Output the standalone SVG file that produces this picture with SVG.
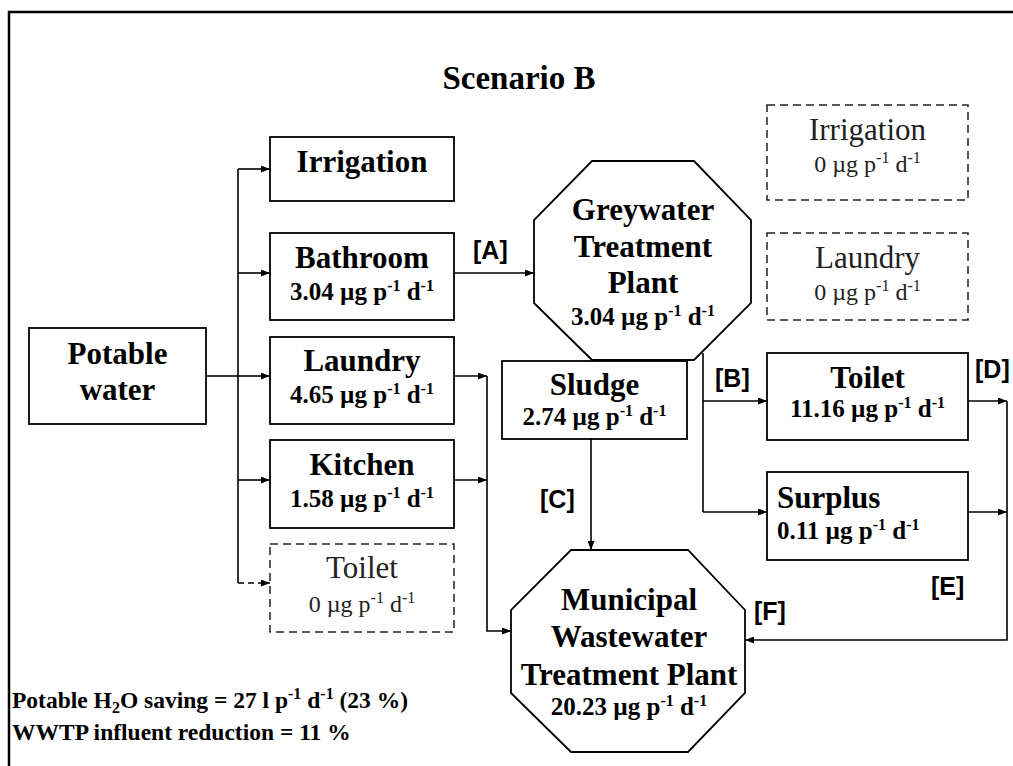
<svg xmlns="http://www.w3.org/2000/svg" width="1013" height="766" viewBox="0 0 1013 766">
<style>
.box{fill:#fff;stroke:#000;stroke-width:1.8}
.dbox{fill:#fff;stroke:#222;stroke-width:1.5;stroke-dasharray:8 5}
.t{font-family:"Liberation Serif","Times New Roman",serif;font-weight:bold;font-size:31px;fill:#000;text-anchor:middle}
.v{font-family:"Liberation Serif","Times New Roman",serif;font-weight:bold;font-size:25px;fill:#000;text-anchor:middle}
.ts{font-family:"Liberation Serif","Times New Roman",serif;font-weight:bold;font-size:31px;fill:#000;text-anchor:start}
.vs{font-family:"Liberation Serif","Times New Roman",serif;font-weight:bold;font-size:25px;fill:#000;text-anchor:start}
.tn{font-family:"Liberation Serif","Times New Roman",serif;font-size:31px;fill:#222;text-anchor:middle}
.vn{font-family:"Liberation Serif","Times New Roman",serif;font-size:24px;fill:#222;text-anchor:middle}
.lab{font-family:"Liberation Sans",Arial,sans-serif;font-weight:bold;font-size:25px;fill:#000}
.sup{font-size:16px}
.con{fill:none;stroke:#000;stroke-width:1.6}
.dcon{fill:none;stroke:#000;stroke-width:1.6;stroke-dasharray:6 4}
.note{font-family:"Liberation Serif","Times New Roman",serif;font-weight:bold;font-size:23.5px;fill:#000}
.title{font-family:"Liberation Serif","Times New Roman",serif;font-weight:bold;font-size:33px;fill:#000;text-anchor:middle}
</style>
<defs>
<marker id="ah" markerWidth="9" markerHeight="7" refX="9" refY="3.5" orient="auto" markerUnits="userSpaceOnUse">
<path d="M0,0 L9,3.5 L0,7 z" fill="#000"/>
</marker>
</defs>
<rect x="0" y="0" width="1013" height="766" fill="#fff"/>
<rect x="9" y="12" width="1020" height="770" fill="none" stroke="#000" stroke-width="2.5"/>
<text class="title" x="519" y="89">Scenario B</text>

<g id="connectors">
<path class="con" d="M206,376 H238"/>
<path class="con" d="M238,169 V583"/>
<path class="con" d="M238,169 H270" marker-end="url(#ah)"/>
<path class="con" d="M238,273 H270" marker-end="url(#ah)"/>
<path class="con" d="M238,376 H270" marker-end="url(#ah)"/>
<path class="con" d="M238,480 H270" marker-end="url(#ah)"/>
<path class="dcon" d="M238,583 H270" marker-end="url(#ah)"/>
<path class="con" d="M454,273 H534" marker-end="url(#ah)"/>
<path class="con" d="M454,376 H487" marker-end="url(#ah)"/>
<path class="con" d="M454,480 H487" marker-end="url(#ah)"/>
<path class="con" d="M487,376 V631 H511" marker-end="url(#ah)"/>
<path class="con" d="M591,439 V550" marker-end="url(#ah)"/>
<path class="con" d="M703,353 V512"/>
<path class="con" d="M703,401 H767" marker-end="url(#ah)"/>
<path class="con" d="M703,512 H767" marker-end="url(#ah)"/>
<path class="con" d="M968,401 H1007" marker-end="url(#ah)"/>
<path class="con" d="M968,512 H1007" marker-end="url(#ah)"/>
<path class="con" d="M1007,401 V640 H745" marker-end="url(#ah)"/>
<text class="lab" x="473" y="259">[A]</text>
<text class="lab" x="715" y="387">[B]</text>
<text class="lab" x="540" y="508">[C]</text>
<text class="lab" x="975" y="378">[D]</text>
<text class="lab" x="931" y="595">[E]</text>
<text class="lab" x="754" y="620">[F]</text>
</g>

<g id="potable">
<rect class="box" x="29" y="328" width="177" height="96"/>
<text class="t" x="117.5" y="364">Potable</text>
<text class="t" x="117.5" y="400">water</text>
</g>
<g id="irrigation">
<rect class="box" x="270" y="137" width="184" height="64"/>
<text class="t" x="362" y="172">Irrigation</text>
</g>
<g id="bathroom">
<rect class="box" x="270" y="233" width="184" height="87"/>
<text class="t" x="362" y="268">Bathroom</text>
<text class="v" x="362" y="300">3.04 µg p<tspan class="sup" dy="-9">-1</tspan><tspan dy="9"> d</tspan><tspan class="sup" dy="-9">-1</tspan></text>
</g>
<g id="laundry">
<rect class="box" x="270" y="337" width="184" height="87"/>
<text class="t" x="362" y="371">Laundry</text>
<text class="v" x="362" y="403">4.65 µg p<tspan class="sup" dy="-9">-1</tspan><tspan dy="9"> d</tspan><tspan class="sup" dy="-9">-1</tspan></text>
</g>
<g id="kitchen">
<rect class="box" x="270" y="440" width="184" height="88"/>
<text class="t" x="362" y="475">Kitchen</text>
<text class="v" x="362" y="507">1.58 µg p<tspan class="sup" dy="-9">-1</tspan><tspan dy="9"> d</tspan><tspan class="sup" dy="-9">-1</tspan></text>
</g>
<g id="toilet-potable">
<rect class="dbox" x="270" y="544" width="184" height="88"/>
<text class="tn" x="362" y="578">Toilet</text>
<text class="vn" x="362" y="612">0 µg p<tspan class="sup" dy="-9">-1</tspan><tspan dy="9"> d</tspan><tspan class="sup" dy="-9">-1</tspan></text>
</g>
<g id="greywater-plant">
<polygon class="box" points="592,161 694,161 751,220 751,303 694,360 592,360 534,303 534,220"/>
<text class="t" x="643" y="220">Greywater</text>
<text class="t" x="643" y="257">Treatment</text>
<text class="t" x="643" y="293">Plant</text>
<text class="v" x="643" y="325">3.04 µg p<tspan class="sup" dy="-9">-1</tspan><tspan dy="9"> d</tspan><tspan class="sup" dy="-9">-1</tspan></text>
</g>
<g id="sludge">
<rect class="box" x="502" y="361" width="185" height="78"/>
<text class="t" x="594.5" y="395">Sludge</text>
<text class="v" x="594.5" y="425">2.74 µg p<tspan class="sup" dy="-9">-1</tspan><tspan dy="9"> d</tspan><tspan class="sup" dy="-9">-1</tspan></text>
</g>
<g id="irrigation-recycled">
<rect class="dbox" x="767" y="105" width="201" height="95"/>
<text class="tn" x="867.5" y="140">Irrigation</text>
<text class="vn" x="867.5" y="172">0 µg p<tspan class="sup" dy="-9">-1</tspan><tspan dy="9"> d</tspan><tspan class="sup" dy="-9">-1</tspan></text>
</g>
<g id="laundry-recycled">
<rect class="dbox" x="767" y="233" width="201" height="87"/>
<text class="tn" x="867.5" y="268">Laundry</text>
<text class="vn" x="867.5" y="300">0 µg p<tspan class="sup" dy="-9">-1</tspan><tspan dy="9"> d</tspan><tspan class="sup" dy="-9">-1</tspan></text>
</g>
<g id="toilet-recycled">
<rect class="box" x="767" y="353" width="201" height="87"/>
<text class="t" x="867.5" y="388">Toilet</text>
<text class="v" x="867.5" y="417">11.16 µg p<tspan class="sup" dy="-9">-1</tspan><tspan dy="9"> d</tspan><tspan class="sup" dy="-9">-1</tspan></text>
</g>
<g id="surplus">
<rect class="box" x="767" y="472" width="201" height="88"/>
<text class="ts" x="777" y="508">Surplus</text>
<text class="vs" x="777" y="539">0.11 µg p<tspan class="sup" dy="-9">-1</tspan><tspan dy="9"> d</tspan><tspan class="sup" dy="-9">-1</tspan></text>
</g>
<g id="municipal-wwtp">
<polygon class="box" points="571,550 688,550 745,610 745,693 688,752 571,752 511,693 511,610"/>
<text class="t" x="629" y="610">Municipal</text>
<text class="t" x="629" y="647">Wastewater</text>
<text class="t" x="629" y="685">Treatment Plant</text>
<text class="v" x="629" y="715">20.23 µg p<tspan class="sup" dy="-9">-1</tspan><tspan dy="9"> d</tspan><tspan class="sup" dy="-9">-1</tspan></text>
</g>
<g id="notes">
<text class="note" x="12" y="708">Potable H<tspan font-size="16" dy="5">2</tspan><tspan dy="-5">O saving = 27 l p</tspan><tspan class="sup" dy="-9">-1</tspan><tspan dy="9"> d</tspan><tspan class="sup" dy="-9">-1</tspan><tspan dy="9"> (23 %)</tspan></text>
<text class="note" x="12" y="740">WWTP influent reduction = 11 %</text>
</g>
</svg>
